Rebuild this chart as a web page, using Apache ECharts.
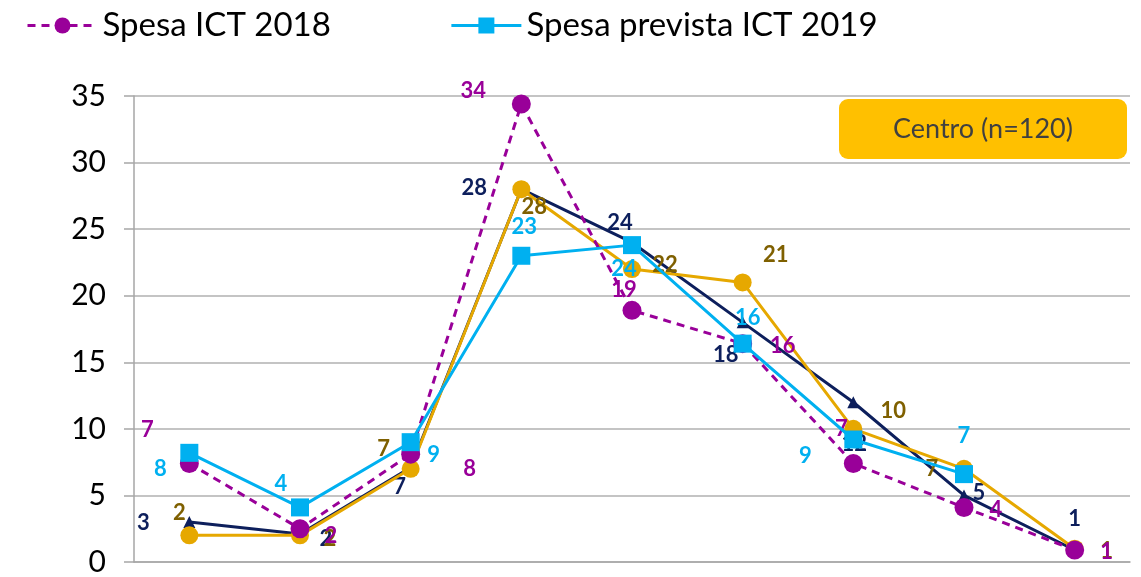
<!DOCTYPE html>
<html>
<head>
<meta charset="utf-8">
<script src="https://cdn.jsdelivr.net/npm/echarts@6/dist/echarts.min.js"></script>
<style>
  html, body { margin: 0; padding: 0; background: #fff; }
  #chart { width: 1141px; height: 577px; }
</style>
</head>
<body>
<div id="chart"></div>
<script>
// categories (x labels are cut off in the reference)
const categories = ['c1', 'c2', 'c3', 'c4', 'c5', 'c6', 'c7', 'c8', 'c9'];
const yTicks = [0, 5, 10, 15, 20, 25, 30, 35];

// series values (cyan line stops at the 8th point)
const spesa2018 = [7.4, 2.5, 8.1, 34.4, 18.9, 16.4, 7.4, 4.1, 0.9];
const prevista2019 = [8.2, 4.1, 9.0, 23.0, 23.8, 16.4, 9.2, 6.6, null];
const serieNavy = [3, 2.1, 7.1, 28, 24, 18, 12, 5, 0.9];
const serieGold = [2, 2, 7, 28, 22, 21, 10, 7, 1];

// labels shown on the points (rounded like the original)
const lbl2018 = [7, 2, 8, 34, 19, 16, 7, 4, 1];
const lbl2019 = [8, 4, 9, 23, 24, 16, 9, 7, ''];
const lblNavy = [3, 2, 7, 28, 24, 18, 12, 5, 1];
const lblGold = [2, 2, 7, 28, 22, 21, 10, 7, 1];

// label offsets in px (placement, not data)
const off2018 = [[-42, -34], [31, 7], [59, 15], [-48, -13], [-8, -20], [40, 2], [-12, -35], [32, 2], [32, 2]];
const off2019 = [[-29, 16], [-19, -24], [23, 13], [3, -29], [-8, 24], [5, -26], [-48, 16], [0, -38], [0, 0]];
const offNavy = [[-46, 1], [26, 5], [-11, 19], [-47, -1], [-12, -20], [-17, 33], [1, 42], [15, -3], [0, -31]];
const offGold = [[-10, -22], [30, 4], [-27, -20], [13, 18], [33, -4], [33, -27], [40, -18], [-32, 0], [32, 2]];

const FONT = 'Lato';

const makeData = (vals, lbls, offs) => vals.map((v, i) => ({
  value: v,
  label: { offset: offs[i], formatter: String(lbls[i]) }
}));

const makeSeries = (name, vals, lbls, offs, color, lblColor, symbol, size, dashed, z) => ({
  name: name,
  type: 'line',
  data: makeData(vals, lbls, offs),
  symbol: symbol,
  symbolSize: size,
  z: z,
  lineStyle: { color: color, width: 3, type: dashed ? [8, 6] : 'solid' },
  itemStyle: { color: color },
  label: {
    show: true,
    position: 'inside',
    color: lblColor,
    fontFamily: FONT,
    fontWeight: 'bold',
    fontSize: 22
  },
  emphasis: { disabled: true },
  animation: false
});

const chart = echarts.init(document.getElementById('chart'));
chart.setOption({
  backgroundColor: '#fff',
  textStyle: { fontFamily: FONT },
  legend: {
    data: ['Spesa ICT 2018', 'Spesa prevista ICT 2019'],
    left: 21,
    top: 4,
    itemWidth: 70,
    itemHeight: 20,
    itemGap: 119,
    lineStyle: { width: 3 },
    textStyle: { fontFamily: FONT, fontSize: 33, color: '#000' }
  },
  grid: { left: 134, right: 11, top: 96, bottom: 11, containLabel: false },
  xAxis: {
    type: 'category',
    data: categories,
    boundaryGap: true,
    axisLine: { lineStyle: { color: '#a6a6a6', width: 1.5 } },
    axisTick: { show: false },
    axisLabel: { show: false }
  },
  yAxis: {
    type: 'value',
    min: yTicks[0],
    max: yTicks[yTicks.length - 1],
    interval: 5,
    axisLine: { show: true, lineStyle: { color: '#a6a6a6', width: 1.5 } },
    axisTick: { show: true, length: 10, lineStyle: { color: '#a6a6a6', width: 1.5 } },
    axisLabel: { color: '#000', fontSize: 30, fontFamily: FONT, margin: 28 },
    splitLine: { lineStyle: { color: '#b0b0b0', width: 1.5 } }
  },
  graphic: [{
    type: 'group',
    left: 839,
    top: 99,
    children: [{
      type: 'rect',
      shape: { x: 0, y: 0, width: 288, height: 60, r: 9 },
      style: { fill: '#ffc000' }
    }, {
      type: 'text',
      x: 144,
      y: 30,
      style: {
        text: 'Centro (n=120)',
        fontFamily: FONT,
        fontSize: 27,
        fill: '#404040',
        align: 'center',
        verticalAlign: 'middle'
      }
    }]
  }],
  series: [
    makeSeries('Serie 3', serieNavy, lblNavy, offNavy, '#0d1f5c', '#0d1f5c', 'triangle', 12, false, 2),
    makeSeries('Serie 4', serieGold, lblGold, offGold, '#e6a800', '#7f6000', 'circle', 18, false, 3),
    makeSeries('Spesa ICT 2018', spesa2018, lbl2018, off2018, '#990099', '#990099', 'circle', 19, true, 4),
    makeSeries('Spesa prevista ICT 2019', prevista2019, lbl2019, off2019, '#00b0f0', '#00b0f0', 'rect', 18, false, 5)
  ]
});
window.onresize = () => chart.resize();
</script>
</body>
</html>
